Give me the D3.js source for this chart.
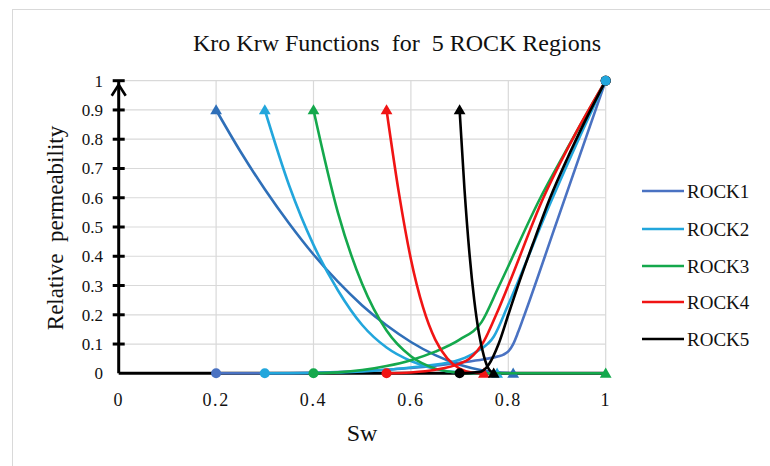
<!DOCTYPE html>
<html>
<head>
<meta charset="utf-8">
<script src="https://cdn.jsdelivr.net/npm/d3@7"></script>
<style>
  html, body { margin: 0; padding: 0; background: #fff; }
  svg { display: block; }
  text { font-family: "Liberation Serif", "Times New Roman", serif; fill: #111; }
</style>
</head>
<body>
<svg id="chart" width="770" height="466"></svg>
<script>
// Relative permeability data (Sw, kr) for five rock regions
const rockNames = ["ROCK1", "ROCK2", "ROCK3", "ROCK4", "ROCK5"];

const kroRock1 = [[0.2,0.9],[0.25,0.758],[0.3,0.629],[0.35,0.512],[0.4,0.406],[0.45,0.313],[0.5,0.232],[0.55,0.164],[0.6,0.107],[0.65,0.062],[0.7,0.029],[0.75,0.009],[0.81,0]];
const krwRock1 = [[0.2,0],[0.3,0],[0.4,0.002],[0.5,0.008],[0.6,0.018],[0.65,0.026],[0.7,0.036],[0.75,0.048],[0.78,0.058],[0.79,0.064],[0.8,0.075],[0.81,0.1],[0.82,0.14],[0.83,0.185],[0.9,0.52],[1,1]];

const kroRock2 = [[0.3,0.9],[0.35,0.642],[0.4,0.439],[0.45,0.284],[0.5,0.165],[0.55,0.088],[0.6,0.042],[0.65,0.015],[0.7,0.003],[0.777,0]];
const krwRock2 = [[0.3,0],[0.4,0.001],[0.5,0.006],[0.55,0.012],[0.6,0.02],[0.633,0.026],[0.7,0.046],[0.735,0.074],[0.77,0.125],[0.8,0.235],[0.886,0.58],[0.954,0.835],[1,1]];

const kroRock3 = [[0.4,0.9],[0.45,0.55],[0.5,0.305],[0.55,0.146],[0.6,0.058],[0.65,0.016],[0.7,0.002],[0.73,0],[0.85,0],[1,0]];
const krwRock3 = [[0.4,0],[0.45,0.003],[0.5,0.011],[0.55,0.025],[0.6,0.045],[0.65,0.074],[0.7,0.115],[0.745,0.175],[0.78,0.295],[0.866,0.6],[0.93,0.795],[1,1]];

const kroRock4 = [[0.55,0.9],[0.575,0.62],[0.6,0.39],[0.625,0.225],[0.65,0.115],[0.675,0.05],[0.7,0.016],[0.725,0.003],[0.75,0]];
const krwRock4 = [[0.55,0],[0.6,0.003],[0.65,0.012],[0.7,0.033],[0.72,0.05],[0.75,0.11],[0.775,0.2],[0.8,0.3],[0.872,0.6],[0.935,0.81],[1,1]];

const kroRock5 = [[0.7,0.9],[0.71,0.63],[0.72,0.414],[0.73,0.251],[0.74,0.134],[0.75,0.058],[0.76,0.014],[0.77,0]];
const krwRock5 = [[0.7,0],[0.74,0.004],[0.76,0.03],[0.78,0.1],[0.8,0.2],[0.82,0.3],[0.85,0.44],[0.886,0.6],[0.92,0.73],[0.954,0.85],[1,1]];

const xTicks = [0, 0.2, 0.4, 0.6, 0.8, 1];
const yTicks = [0, 0.1, 0.2, 0.3, 0.4, 0.5, 0.6, 0.7, 0.8, 0.9, 1];

const kroColors = ["#2f6fb8", "#22a6dc", "#14a84c", "#f01414", "#000000"];
const krwColors = ["#4a72c2", "#22a6dc", "#14a84c", "#f01414", "#000000"];

const kroSets = [kroRock1, kroRock2, kroRock3, kroRock4, kroRock5];
const krwSets = [krwRock1, krwRock2, krwRock3, krwRock4, krwRock5];

const svg = d3.select("#chart");

// chart frame
svg.append("rect").attr("x", 12.5).attr("y", 9.5).attr("width", 800).attr("height", 500)
  .attr("fill", "#fff").attr("stroke", "#d9d9d9");

const x = d3.scaleLinear().domain([0, 1]).range([118.7, 605.7]);
const y = d3.scaleLinear().domain([0, 1]).range([373.3, 80.7]);

// gridlines
const grid = svg.append("g");
grid.selectAll(".hg").data(yTicks.slice(1)).join("line")
  .attr("x1", x(0)).attr("x2", x(1))
  .attr("y1", d => y(d)).attr("y2", d => y(d))
  .attr("stroke", "#d9d9d9").attr("stroke-width", 1.2);
grid.selectAll(".vg").data(xTicks.slice(1)).join("line")
  .attr("x1", d => x(d)).attr("x2", d => x(d))
  .attr("y1", y(0)).attr("y2", y(1))
  .attr("stroke", "#d9d9d9").attr("stroke-width", 1.2);

// x axis line
svg.append("line").attr("x1", x(0)).attr("x2", x(1)).attr("y1", y(0)).attr("y2", y(0))
  .attr("stroke", "#000").attr("stroke-width", 3);

// x tick labels
svg.append("g").selectAll("text").data(xTicks).join("text")
  .attr("x", d => x(d)).attr("y", 406)
  .attr("text-anchor", "middle").attr("font-size", 18).attr("letter-spacing", 1.6)
  .text(d => d3.format("")(d));

// y tick labels
svg.append("g").selectAll("text").data(yTicks).join("text")
  .attr("x", 103).attr("y", d => y(d) + 6)
  .attr("text-anchor", "end").attr("font-size", 17)
  .text(d => d3.format("")(d));

// curves
const line = d3.line().x(d => x(d[0])).y(d => y(d[1])).curve(d3.curveMonotoneX);
const plot = svg.append("g");
const tri = d3.symbol().type(d3.symbolTriangle).size(60);

rockNames.forEach((name, i) => {
  const g = plot.append("g");
  g.append("path").datum(krwSets[i]).attr("d", line)
    .attr("fill", "none").attr("stroke", krwColors[i]).attr("stroke-width", 2.6);
  g.append("path").datum(kroSets[i]).attr("d", line)
    .attr("fill", "none").attr("stroke", kroColors[i]).attr("stroke-width", 2.6);
  const kw = krwSets[i];
  g.selectAll(".c").data([kw[0], kw[kw.length - 1]]).join("circle")
    .attr("class", (d, j) => "krw-end s" + i + "-" + j)
    .attr("cx", d => x(d[0])).attr("cy", d => y(d[1])).attr("r", 5)
    .attr("fill", krwColors[i]);
  const ko = kroSets[i];
  g.selectAll(".t").data([ko[0], ko[ko.length - 1]]).join("path")
    .attr("d", tri)
    .attr("transform", d => `translate(${x(d[0])},${y(d[1]) + 1})`)
    .attr("fill", kroColors[i]);
});
// ROCK2 end marker sits on top at (1,1)
const rock2End = plot.select(".s1-1").node();
plot.node().appendChild(rock2End);

// y axis with crossing ticks and arrowhead
const ax = svg.append("g").attr("stroke", "#000").attr("stroke-width", 3).attr("fill", "none");
ax.append("line").attr("x1", x(0)).attr("x2", x(0)).attr("y1", y(0)).attr("y2", y(1));
ax.selectAll(".tk").data(yTicks.slice(1)).join("line")
  .attr("x1", x(0) - 6).attr("x2", x(0) + 6)
  .attr("y1", d => y(d)).attr("y2", d => y(d));
ax.append("path")
  .attr("d", `M${x(0) - 7},${y(1) + 15} L${x(0)},${y(1) + 4} L${x(0) + 7},${y(1) + 15}`)
  .attr("stroke-width", 2.6);

// titles
svg.append("text").attr("x", 397).attr("y", 51).attr("text-anchor", "middle")
  .attr("font-size", 24).attr("xml:space", "preserve")
  .text("Kro Krw Functions  for  5 ROCK Regions");
svg.append("text").attr("x", 362).attr("y", 441).attr("text-anchor", "middle")
  .attr("font-size", 24).text("Sw");
svg.append("text").attr("transform", "translate(63,228) rotate(-90)")
  .attr("text-anchor", "middle").attr("font-size", 23).attr("xml:space", "preserve")
  .text("Relative  permeability");

// legend
const legendY = [191, 229, 266, 302, 339];
const leg = svg.append("g").selectAll("g").data(rockNames).join("g")
  .attr("transform", (d, i) => `translate(642,${legendY[i]})`);
leg.append("line").attr("x1", 0).attr("x2", 42).attr("y1", 0).attr("y2", 0)
  .attr("stroke", (d, i) => krwColors[i]).attr("stroke-width", 2.6);
leg.append("text").attr("x", 45).attr("y", 7).attr("font-size", 19).text(d => d);
</script>
</body>
</html>
